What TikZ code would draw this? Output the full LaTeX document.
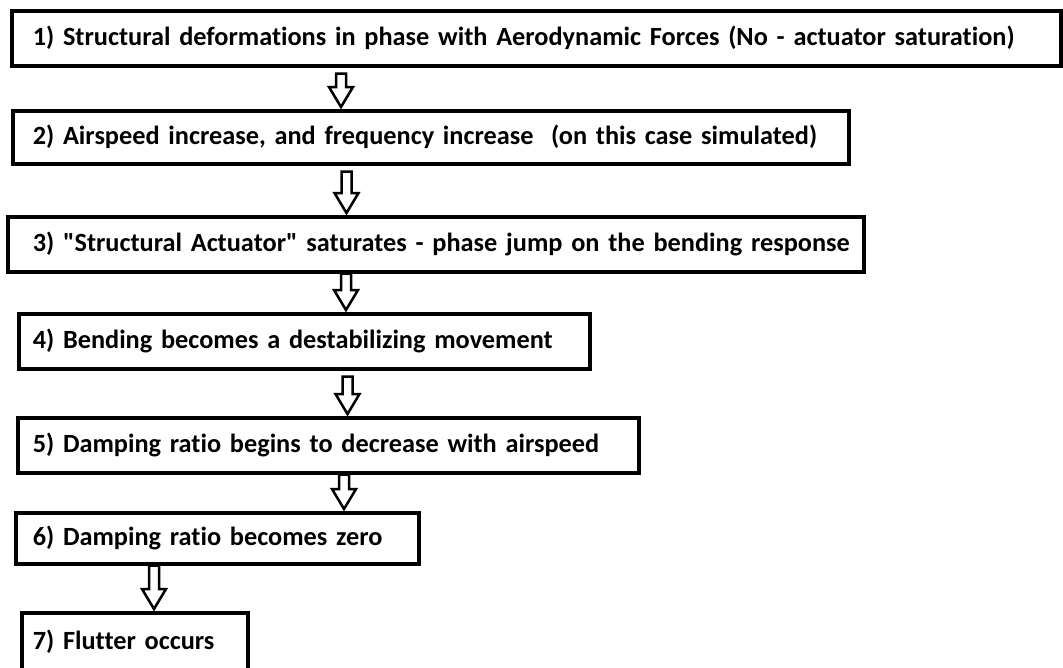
\documentclass[tikz,border=0pt]{standalone}
\usepackage{fontspec}
\setmainfont{Carlito}[Ligatures={TeXOff,NoCommon}]
\usetikzlibrary{calc}

\tikzset{
  stepbox/.style={draw, line width=3.5pt, anchor=north west, align=left,
    font=\bfseries\fontsize{26.3}{30}\selectfont},
  blockarrow/.style={draw, fill=white, line width=2.5pt, line join=miter}
}
% hollow block arrow from coordinate #1 down to the top of node #2
\newcommand{\flowarrow}[2]{%
  \draw[blockarrow] let \p1=(#1), \p2=(#1 |- #2.north) in
    (\x1-5pt,\y1) -- (\x1-5pt,\y2+22pt) -- (\x1-12pt,\y2+22pt) -- (\x1,\y2+2pt)
    -- (\x1+12pt,\y2+22pt) -- (\x1+5pt,\y2+22pt) -- (\x1+5pt,\y1) -- cycle;}

\begin{document}
\begin{tikzpicture}[x=1pt,y=-1pt]
\useasboundingbox (0,0) rectangle (1063,667);

\node[stepbox, inner xsep=21pt, text width=1007pt, minimum height=55pt] (b1) at (10,9)
  {1) Structural deformations in phase with Aerodynamic Forces (No - actuator saturation)};
\node[stepbox, inner xsep=20pt, text width=796pt, minimum height=53pt] (b2) at (11,109)
  {2) Airspeed increase, and frequency increase~ (on this case simulated)};
\node[stepbox, inner xsep=25pt, text width=806pt, minimum height=55pt] (b3) at (6,215)
  {\mbox{3) "Structural Actuator" saturates - phase jump on the bending response}};
\node[stepbox, inner xsep=14pt, text width=543pt, minimum height=55pt] (b4) at (17,312)
  {4) Bending becomes a destabilizing movement};
\node[stepbox, inner xsep=15pt, text width=591pt, minimum height=55pt] (b5) at (16,416)
  {5) Damping ratio begins to decrease with airspeed};
\node[stepbox, inner xsep=17pt, text width=369pt, minimum height=51pt] (b6) at (14,511)
  {6) Damping ratio becomes zero};
\node[stepbox, inner xsep=11pt, text width=204pt, minimum height=58pt] (b7) at (20,611)
  {7) Flutter occurs};

% arrows
\coordinate (a1) at ([xshift=331pt,yshift=-6pt]b1.south west);
\coordinate (a2) at ([xshift=335.5pt,yshift=-6pt]b2.south west);
\coordinate (a3) at ([xshift=340pt]b3.south west);
\coordinate (a4) at ([xshift=330.5pt,yshift=-6pt]b4.south west);
\coordinate (a5) at ([xshift=328pt]b5.south west);
\coordinate (a6) at ([xshift=140pt]b6.south west);
\flowarrow{a1}{b2}
\flowarrow{a2}{b3}
\flowarrow{a3}{b4}
\flowarrow{a4}{b5}
\flowarrow{a5}{b6}
\flowarrow{a6}{b7}
\end{tikzpicture}
\end{document}
